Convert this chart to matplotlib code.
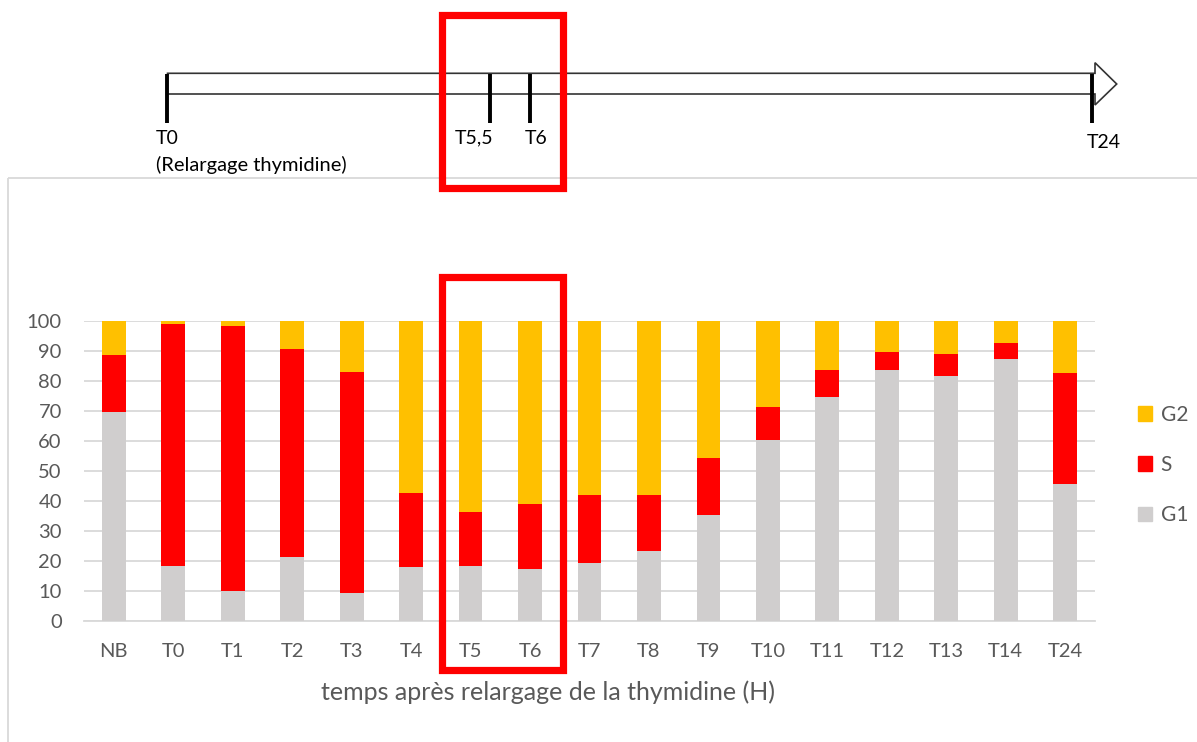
import numpy as np
import matplotlib
matplotlib.use('Agg')
import matplotlib.pyplot as plt
from matplotlib.patches import Rectangle, Polygon, Patch

plt.rcParams['font.family'] = ['Lato', 'DejaVu Sans']

categories = ['NB', 'T0', 'T1', 'T2', 'T3', 'T4', 'T5', 'T6', 'T7',
              'T8', 'T9', 'T10', 'T11', 'T12', 'T13', 'T14', 'T24']
g1 = [69.8, 18.3, 9.9, 21.5, 9.5, 18.0, 18.5, 17.3, 19.5,
      23.4, 35.5, 60.4, 74.8, 83.8, 81.6, 87.4, 45.8]
s_top = [88.8, 99.1, 98.4, 90.8, 83.1, 42.6, 36.4, 39.0, 42.1,
         42.1, 54.5, 71.5, 83.6, 89.8, 89.1, 92.7, 82.6]
g1 = np.array(g1)
s = np.array(s_top) - g1
g2 = 100 - g1 - s

timeline_ticks = [(166.7, 'T0'), (490, 'T5,5'), (530, 'T6'), (1092.3, 'T24')]

W, H = 1197, 742
fig = plt.figure(figsize=(W / 100, H / 100), dpi=100)

# chart area
ax = fig.add_axes([84 / W, 1 - 621 / H, (1095 - 84) / W, 300 / H])
x = np.arange(len(categories))
c_g1, c_s, c_g2 = '#d0cece', '#ff0000', '#ffc000'
ax.bar(x, g1, 0.4, color=c_g1, zorder=3)
ax.bar(x, s, 0.4, bottom=g1, color=c_s, zorder=3)
ax.bar(x, g2, 0.4, bottom=g1 + s, color=c_g2, zorder=3)
ax.set_xlim(-0.5, len(categories) - 0.5)
ax.set_ylim(0, 100)
ax.set_yticks(range(0, 101, 10))
ax.set_xticks(x)
ax.set_xticklabels(categories)
ax.grid(axis='y', color='#d9d9d9', lw=1.3, zorder=0)
for sp in ['top', 'right', 'left']:
    ax.spines[sp].set_visible(False)
ax.spines['bottom'].set_color('#d9d9d9')
ax.spines['bottom'].set_linewidth(1.3)
ax.tick_params(axis='both', length=0, labelsize=14.5, colors='#595959')
ax.tick_params(axis='y', pad=16)
ax.tick_params(axis='x', pad=16)
fig.text(548 / W, 1 - 692 / H, 'temps après relargage de la thymidine (H)',
         ha='center', va='center', fontsize=18, color='#595959')

handles = [Patch(color=c_g2, label='G2'), Patch(color=c_s, label='S'),
           Patch(color=c_g1, label='G1')]
fig.legend(handles=handles, loc='center left', frameon=False,
           bbox_to_anchor=(1119 / W, 1 - 465 / H), fontsize=15,
           handlelength=0.7, handleheight=0.7, handletextpad=0.4,
           labelspacing=1.45, labelcolor='#595959')

# overlay in pixel coords
ov = fig.add_axes([0, 0, 1, 1], zorder=10)
ov.set_xlim(0, W)
ov.set_ylim(H, 0)
ov.axis('off')
ov.patch.set_alpha(0)

# chart border
ov.add_patch(Rectangle((7.5, 178), 1300, 700, fill=False, ec='#d9d9d9', lw=1.3))

# hollow arrow timeline
ov.add_patch(Polygon([(166.7, 73.3), (1095, 73.3), (1095, 62.7), (1116.7, 84),
                      (1095, 105), (1095, 94), (166.7, 94)],
                     closed=False, fill=False, ec='#333333', lw=1.2))
for tx, lab in timeline_ticks:
    ov.plot([tx, tx], [74, 122.5], color='black', lw=2.8, solid_capstyle='butt')
ox = {'T0': 156, 'T5,5': 455, 'T6': 525, 'T24': 1087}
oy = {'T0': 138, 'T5,5': 138, 'T6': 138, 'T24': 143}
for tx, lab in timeline_ticks:
    ov.text(ox[lab], oy[lab], lab, ha='left', va='center', fontsize=14, color='black')
ov.text(156, 165, '(Relargage thymidine)', ha='left', va='center', fontsize=14.5,
        color='black')

# red highlight boxes
ov.add_patch(Rectangle((441.5, 14.5), 121, 173.5, fill=False, ec='#ff0000', lw=5.2))
ov.add_patch(Rectangle((441.5, 276.5), 121, 393, fill=False, ec='#ff0000', lw=5.2))

fig.savefig('out.png', dpi=100)
